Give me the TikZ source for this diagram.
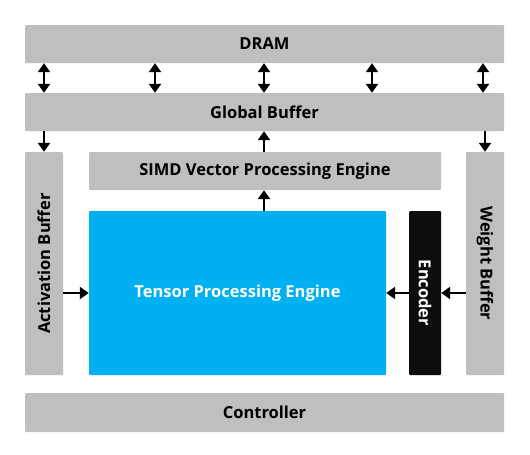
\documentclass[tikz,border=0pt]{standalone}
\usepackage{fontspec}
\setmainfont{Open Sans}
\usetikzlibrary{positioning, calc, arrows.meta}

\definecolor{boxgray}{HTML}{BFBFBF}
\definecolor{tpecyan}{HTML}{00B0F0}
\definecolor{encblack}{HTML}{0D0D0D}

\begin{document}
\begin{tikzpicture}[x=1pt, y=-1pt,
    blk/.style={rectangle, rounded corners=1pt, inner sep=0pt, fill=boxgray,
      font=\bfseries\fontsize{16.5}{19}\selectfont},
    flow/.style={-{Triangle[length=9pt, width=12pt]}, line width=2.4pt},
    both/.style={{Triangle[length=9pt, width=12pt]}-{Triangle[length=9pt, width=12pt]}, line width=2.4pt}]
  \useasboundingbox (0,0) rectangle (530,455);
  % top rows
  \node[blk, minimum width=479pt, minimum height=38pt] (dram) at (264.5,44) {DRAM};
  \node[blk, minimum width=479pt, minimum height=38pt] (glob) at (264.5,112) {Global Buffer};
  % middle
  \node[blk, minimum width=38pt, minimum height=223pt] (act) at (44,263.5)
    {\rotatebox{90}{Activation Buffer}};
  \node[blk, minimum width=352pt, minimum height=38pt] (simd) at (265,171)
    {SIMD Vector Processing Engine};
  \node[blk, fill=tpecyan, text=white, minimum width=297pt, minimum height=164pt] (tpe)
    at (237.5,293) {Tensor Processing Engine};
  \node[blk, fill=encblack, text=white, minimum width=32pt, minimum height=164pt] (enc)
    at (425,293) {\rotatebox{-90}{Encoder}};
  \node[blk, minimum width=38pt, minimum height=223pt] (wgt) at (485,263.5)
    {\rotatebox{-90}{Weight Buffer}};
  % bottom
  \node[blk, minimum width=479pt, minimum height=39pt] (ctrl) at (264.5,412.5) {Controller};

  % DRAM <-> Global Buffer
  \foreach \x in {44,155,264,372,483}
    \draw[both] (dram.south -| \x,0) -- (glob.north -| \x,0);

  \draw[flow] (glob.south -| act) -- (act);
  \draw[flow] (glob.south -| wgt) -- (wgt);
  \draw[flow] (simd.north -| 264,0) -- (glob.south -| 264,0);
  \draw[flow] (tpe.north -| 264,0) -- (simd.south -| 264,0);
  \draw[flow] (act.east |- tpe) -- (tpe.west);
  \draw[flow] (enc.west) -- (tpe.east);
  \draw[flow] (wgt.west |- enc) -- (enc.east);
\end{tikzpicture}
\end{document}
